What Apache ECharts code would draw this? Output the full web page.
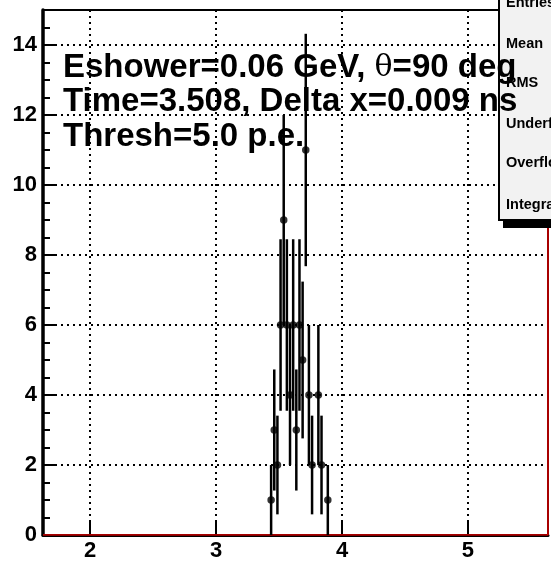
<!DOCTYPE html>
<html><head><meta charset="utf-8">
<script src="https://cdn.jsdelivr.net/npm/echarts@6/dist/echarts.min.js"></script>
<style>html,body{margin:0;padding:0;background:#fff}#c{width:551px;height:564px}</style>
</head><body><div id="c"></div>
<script>
// ---- data ----
const binCenters = [3.4375, 3.4625, 3.4875, 3.5125, 3.5375, 3.5625, 3.5875, 3.6125, 3.6375, 3.6625, 3.6875, 3.7125, 3.7375, 3.7625, 3.8125, 3.8375, 3.8875];
const counts     = [1, 3, 2, 6, 9, 6, 4, 6, 3, 6, 5, 11, 4, 2, 4, 2, 1];
const errors     = [1, 1.73, 1.41, 2.45, 3, 2.45, 2, 2.45, 1.73, 2.45, 2.24, 3.32, 2, 1.41, 2, 1.41, 1];
const xTicks = [2, 3, 4, 5];
const yTicks = [0, 2, 4, 6, 8, 10, 12, 14];
const yMinorTicks = [0.5, 1, 1.5, 2.5, 3, 3.5, 4.5, 5, 5.5, 6.5, 7, 7.5, 8.5, 9, 9.5, 10.5, 11, 11.5, 12.5, 13, 13.5, 14.5];
const statsLabels = ['Entries', 'Mean', 'RMS', 'Underflow', 'Overflow', 'Integral'];
const infoLine1 = ['Eshower=0.06 GeV, ', 'θ', '=90 deg'];
const infoLine2 = 'Time=3.508, Delta x=0.009 ns';
const infoLine3 = 'Thresh=5.0 p.e.';

const X_MIN = 1.627, X_MAX = 5.635, Y_MIN = 0, Y_MAX = 15;
const FONT = 'Liberation Sans, Arial, Helvetica, sans-serif';

const chart = echarts.init(document.getElementById('c'), null, {renderer: 'canvas'});

const statY = [3, 44, 83, 124, 163, 205];
const graphics = [
  {type: 'rect', z: 100, z2: 1, shape: {x: 503, y: -16, width: 60, height: 244}, style: {fill: '#000'}},
  {type: 'rect', z: 100, z2: 2, shape: {x: 499, y: -20, width: 60, height: 240}, style: {fill: '#f2f2f2', stroke: '#000', lineWidth: 2}}
];
statsLabels.forEach((t, i) => {
  graphics.push({type: 'text', z: 100, z2: 3, x: 506, y: statY[i],
    style: {text: t, font: 'bold 14.5px ' + FONT, fill: '#000', verticalAlign: 'middle', align: 'left'}});
});
graphics.push({type: 'text', z: 100, z2: 10, x: 63, y: 68,
  style: {
    text: '{b|' + infoLine1[0] + '}{t|' + infoLine1[1] + '}{b|' + infoLine1[2] + '}',
    verticalAlign: 'middle', align: 'left',
    rich: {
      b: {fontFamily: FONT, fontWeight: 'bold', fontSize: 33, fill: '#000', color: '#000'},
      t: {fontFamily: 'DejaVu Serif, serif', fontWeight: 'normal', fontSize: 30, fill: '#000', color: '#000'}
    }
  }});
graphics.push({type: 'text', z: 100, z2: 10, x: 63, y: 102,
  style: {text: infoLine2, font: 'bold 33px ' + FONT, fill: '#000', verticalAlign: 'middle', align: 'left'}});
graphics.push({type: 'text', z: 100, z2: 10, x: 63, y: 137,
  style: {text: infoLine3, font: 'bold 33px ' + FONT, fill: '#000', verticalAlign: 'middle', align: 'left'}});

const option = {
  animation: false,
  backgroundColor: '#fff',
  grid: {left: 43, right: 3, top: 10, bottom: 29, show: true, borderColor: '#000', borderWidth: 2, containLabel: false},
  xAxis: {
    type: 'value', min: X_MIN, max: X_MAX,
    axisLine: {show: true, onZero: false, lineStyle: {color: '#000', width: 3}},
    axisTick: {show: true, inside: true, length: 13, customValues: xTicks, lineStyle: {color: '#000', width: 2}},
    axisLabel: {show: true, customValues: xTicks, margin: 5, color: '#000', fontSize: 22, fontWeight: 'bold', fontFamily: FONT},
    splitLine: {show: true, lineStyle: {color: '#000', width: 2, type: [2, 4]}}
  },
  yAxis: [{
    type: 'value', min: Y_MIN, max: Y_MAX, position: 'left',
    axisLine: {show: true, onZero: false, lineStyle: {color: '#000', width: 3.5}},
    axisTick: {show: true, inside: true, length: 13, customValues: yTicks, lineStyle: {color: '#000', width: 2}},
    axisLabel: {show: true, customValues: yTicks, margin: 6, color: '#000', fontSize: 22, fontWeight: 'bold', fontFamily: FONT},
    splitLine: {show: true, lineStyle: {color: '#000', width: 2, type: [2, 4]}}
  }, {
    type: 'value', min: Y_MIN, max: Y_MAX, position: 'left', offset: 0,
    axisLine: {show: false},
    axisTick: {show: true, inside: true, length: 7, customValues: yMinorTicks, lineStyle: {color: '#000', width: 2}},
    axisLabel: {show: false},
    splitLine: {show: false}
  }],
  series: [
    {
      type: 'line', yAxisIndex: 0, silent: true, symbol: 'none', z: 1,
      data: [[X_MIN, 0], [X_MAX, 0], [X_MAX, Y_MAX]],
      lineStyle: {color: '#e00000', width: 1.5}
    },
    {
      type: 'custom', yAxisIndex: 0, z: 3,
      data: binCenters.map((x, i) => [x, counts[i], errors[i]]),
      renderItem: function (params, api) {
        const x = api.value(0), y = api.value(1), e = api.value(2);
        const lo = api.coord([x, Math.max(0, y - e)]);
        const hi = api.coord([x, y + e]);
        return {type: 'line', shape: {x1: lo[0], y1: lo[1], x2: hi[0], y2: hi[1]}, style: {stroke: '#000', lineWidth: 2.5}};
      }
    },
    {
      type: 'scatter', yAxisIndex: 0, z: 4, symbol: 'circle', symbolSize: 7.5,
      itemStyle: {color: '#000'},
      data: binCenters.map((x, i) => [x, counts[i]])
    }
  ],
  graphic: graphics
};
chart.setOption(option);
</script>
</body></html>
